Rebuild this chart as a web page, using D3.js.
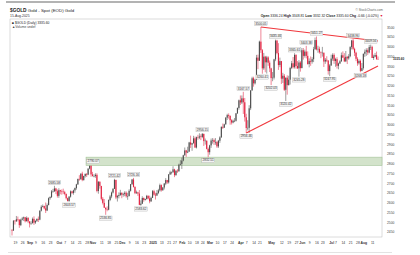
<!DOCTYPE html>
<html><head><meta charset="utf-8">
<script src="https://cdn.jsdelivr.net/npm/d3@7/dist/d3.min.js"></script>
<style>body{margin:0;background:#fff}svg{display:block;font-family:"Liberation Sans",Arial,sans-serif}</style>
</head><body><svg id="c" width="420" height="255"></svg>
<script>
// Daily OHLC rows: [day, open, high, low, close]
const aug24=[[15,2457,2464,2431,2456],[16,2456,2509,2455,2507],[19,2507,2509,2487,2504],[20,2504,2531,2500,2514],[21,2514,2528,2503,2512],[22,2512,2514,2470,2484],[23,2484,2517,2479,2512],[26,2512,2526,2508,2518],[27,2518,2528,2505,2524],[28,2524,2526,2498,2504],[29,2504,2529,2503,2521],[30,2521,2525,2494,2503]];
const sep24=[[3,2503,2504,2472,2493],[4,2493,2504,2485,2495],[5,2495,2523,2491,2516],[6,2516,2529,2485,2497],[9,2497,2508,2490,2506],[10,2506,2518,2500,2516],[11,2516,2528,2500,2512],[12,2512,2560,2509,2558],[13,2558,2586,2554,2578],[16,2578,2590,2575,2582],[17,2582,2584,2565,2570],[18,2570,2600,2546,2559],[19,2559,2595,2556,2587],[20,2587,2626,2585,2622],[23,2622,2632,2614,2628],[24,2628,2664,2623,2657],[25,2657,2670,2650,2657],[26,2657,2685.58,2655,2672],[27,2672,2675,2643,2658],[30,2658,2667,2625,2634]];
const oct24=[[1,2634,2673,2624,2663],[2,2663,2665,2642,2657],[3,2657,2667,2640,2656],[4,2656,2671,2643,2653],[7,2653,2660,2637,2644],[8,2644,2646,2615,2622],[9,2622,2625,2605,2608],[10,2608,2633,2603.57,2630],[11,2630,2662,2625,2657],[14,2657,2660,2643,2649],[15,2649,2666,2640,2662],[16,2662,2677,2650,2674],[17,2674,2696,2666,2693],[18,2693,2722,2690,2721],[21,2721,2740,2712,2720],[22,2720,2749,2716,2748],[23,2748,2758,2709,2715],[24,2715,2737,2712,2736],[25,2736,2748,2728,2747],[28,2747,2750,2731,2743],[29,2743,2775,2740,2774],[30,2774,2789,2770,2788],[31,2788,2790.07,2732,2744]];
const nov24=[[1,2744,2757,2733,2736],[4,2736,2745,2729,2736],[5,2736,2750,2727,2742],[6,2742,2750,2652,2659],[7,2659,2710,2645,2706],[8,2706,2709,2671,2685],[11,2685,2685,2611,2619],[12,2619,2628,2590,2598],[13,2598,2618,2573,2573],[14,2573,2575,2536.85,2565],[15,2565,2580,2555,2563],[18,2563,2616,2560,2613],[19,2613,2639,2607,2631],[20,2631,2656,2622,2651],[21,2651,2674,2646,2670],[22,2670,2721.42,2669,2716],[25,2716,2716,2617,2626],[26,2626,2639,2605,2633],[27,2633,2652,2621,2638],[29,2638,2665,2634,2650]];
const dec24=[[2,2650,2651,2622,2640],[3,2640,2650,2630,2643],[4,2643,2658,2632,2650],[5,2650,2657,2625,2632],[6,2632,2650,2614,2633],[9,2633,2668,2631,2660],[10,2660,2695,2656,2694],[11,2694,2721,2690,2718],[12,2718,2726.16,2677,2680],[13,2680,2683,2643,2648],[16,2648,2661,2644,2652],[17,2652,2655,2634,2646],[18,2646,2664,2586,2588],[19,2588,2611,2583.62,2594],[20,2594,2632,2592,2623],[23,2623,2626,2604,2613],[24,2613,2620,2610,2618],[26,2618,2639,2615,2634],[27,2634,2637,2616,2621],[30,2621,2635,2596,2606],[31,2606,2630,2603,2624]];
const jan25=[[2,2624,2664,2623,2658],[3,2658,2665,2635,2640],[6,2640,2650,2615,2636],[7,2636,2664,2633,2649],[8,2649,2670,2643,2662],[10,2662,2697,2656,2689],[13,2689,2693,2656,2663],[14,2663,2679,2660,2677],[15,2677,2700,2667,2697],[16,2697,2725,2689,2715],[17,2715,2716,2695,2703],[21,2703,2746,2697,2744],[22,2744,2763,2741,2755],[23,2755,2759,2744,2755],[24,2755,2786,2753,2770],[27,2770,2773,2730,2740],[28,2740,2765,2738,2763],[29,2763,2771,2752,2760],[30,2760,2799,2758,2794],[31,2794,2817,2790,2798]];
const feb25=[[3,2798,2830,2772,2815],[4,2815,2845,2811,2842],[5,2842,2882,2840,2867],[6,2867,2870,2834,2856],[7,2856,2886,2853,2861],[10,2861,2911,2860,2908],[11,2908,2943,2880,2897],[12,2897,2906,2865,2904],[13,2904,2942,2902,2929],[14,2929,2938,2880,2882],[18,2882,2938,2877,2935],[19,2935,2947,2922,2933],[20,2933,2955,2925,2939],[21,2939,2950,2920,2936],[24,2936,2956.15,2930,2952],[25,2952,2953,2890,2915],[26,2915,2928,2897,2917],[27,2917,2918,2872,2875],[28,2875,2882,2832.51,2858]];
const mar25=[[3,2858,2896,2845,2893],[4,2893,2928,2880,2918],[5,2918,2930,2902,2920],[6,2920,2928,2895,2910],[7,2910,2930,2896,2910],[10,2910,2916,2880,2888],[11,2888,2921,2880,2917],[12,2917,2940,2906,2934],[13,2934,2990,2932,2988],[14,2988,3005,2977,2984],[17,2984,3004,2982,3001],[18,3001,3038,2999,3035],[19,3035,3055,3023,3048],[20,3048,3057,3030,3044],[21,3044,3047,2999,3022],[24,3022,3027,3000,3010],[25,3010,3025,3006,3019],[26,3019,3033,3012,3019],[27,3019,3059,3015,3057],[28,3057,3087,3055,3085],[31,3085,3128,3076,3124]];
const apr25=[[1,3124,3149,3100,3113],[2,3113,3149,3105,3134],[3,3134,3167.57,3054,3114],[4,3114,3136,3015,3037],[7,3037,3055,2956.46,2982],[8,2982,3022,2970,2983],[9,2983,3099,2957,3083],[10,3083,3176,3074,3175],[11,3175,3245,3173,3237],[14,3237,3245,3194,3211],[15,3211,3232,3205,3230],[16,3230,3357,3229,3343],[17,3343,3358,3284,3327],[21,3327,3430,3327,3425],[22,3425,3500.05,3367,3381],[23,3381,3387,3260.41,3288],[24,3288,3367,3280,3348],[25,3348,3352,3268,3319],[28,3319,3352,3261,3344],[29,3344,3350,3301,3317],[30,3317,3328,3269,3288]];
const may25=[[1,3288,3291,3202.03,3238],[2,3238,3269,3222,3240],[5,3240,3337,3231,3334],[6,3334,3435.46,3325,3430],[7,3430,3434,3360,3366],[8,3366,3417,3280,3305],[9,3305,3343,3294,3325],[12,3325,3326,3208,3235],[13,3235,3265,3213,3250],[14,3250,3259,3172,3178],[15,3178,3241,3120.42,3240],[16,3240,3252,3153,3202],[19,3202,3250,3200,3230],[20,3230,3296,3205,3290],[21,3290,3326,3284,3314],[22,3314,3346,3287,3294],[23,3294,3365.61,3287,3357],[27,3357,3360,3286,3300],[28,3300,3325,3285,3288],[29,3288,3330,3245.28,3318],[30,3318,3325,3271,3289]];
const jun25=[[2,3289,3392,3289,3381],[3,3381,3392,3333,3352],[4,3352,3384,3343,3374],[5,3374,3403.38,3339,3352],[6,3352,3375,3307,3310],[9,3310,3339,3293,3326],[10,3326,3349,3301,3322],[11,3322,3345,3312,3335],[12,3335,3398,3320,3386],[13,3386,3446,3383,3433],[16,3433,3451.27,3380,3385],[17,3385,3404,3368,3388],[18,3388,3399,3363,3370],[20,3370,3375,3340,3368],[23,3368,3398,3348,3368],[24,3368,3369,3295,3323],[25,3323,3341,3311,3332],[26,3332,3350,3320,3328],[27,3328,3330,3256,3274],[30,3274,3310,3247.95,3303]];
const jul25=[[1,3303,3358,3300,3338],[2,3338,3365,3327,3357],[3,3357,3365,3311,3326],[7,3326,3342,3296,3335],[8,3335,3345,3287,3301],[9,3301,3317,3283,3313],[10,3313,3330,3310,3324],[11,3324,3369,3322,3355],[14,3355,3375,3341,3343],[15,3343,3366,3320,3324],[16,3324,3377,3320,3347],[17,3347,3352,3310,3339],[18,3339,3361,3332,3350],[21,3350,3402,3345,3397],[22,3397,3434,3385,3431],[23,3431,3438.96,3381,3388],[24,3388,3394,3351,3368],[25,3368,3373,3325,3337],[28,3337,3345,3301,3314],[29,3314,3334,3307,3326],[30,3326,3333,3268.18,3275],[31,3275,3315,3273,3289]];
const aug25=[[1,3289,3363,3281,3363],[4,3363,3385,3347,3373],[5,3373,3391,3352,3381],[6,3381,3391,3357,3369],[7,3369,3408,3365,3397],[8,3397,3409.56,3382,3398],[11,3398,3404,3341,3341],[12,3341,3358,3331,3348],[13,3348,3367,3345,3356],[14,3356,3374,3331,3336],[15,3336.24,3348.81,3332.32,3335.6]];

const monthTable=[[2024,8,aug24],[2024,9,sep24],[2024,10,oct24],[2024,11,nov24],[2024,12,dec24],[2025,1,jan25],[2025,2,feb25],[2025,3,mar25],[2025,4,apr25],[2025,5,may25],[2025,6,jun25],[2025,7,jul25],[2025,8,aug25]];

const yTicks=[3500,3450,3400,3350,3300,3250,3200,3150,3100,3050,3000,2950,2900,2850,2800,2750,2700,2650,2600,2550,2500,2450];
const xTickLabels=[["2024-08-19","19"],["2024-08-26","26"],["2024-09-03","Sep",1],["2024-09-09","9"],["2024-09-16","16"],["2024-09-23","23"],["2024-10-01","Oct",1],["2024-10-07","7"],["2024-10-14","14"],["2024-10-21","21"],["2024-10-28","28"],["2024-11-01","Nov",1],["2024-11-11","11"],["2024-11-18","18"],["2024-11-25","25"],["2024-12-02","Dec",1],["2024-12-09","9"],["2024-12-16","16"],["2024-12-23","23"],["2025-01-02","2025",1],["2025-01-13","13"],["2025-01-21","21"],["2025-01-27","27"],["2025-02-03","Feb",1],["2025-02-10","10"],["2025-02-18","18"],["2025-02-24","24"],["2025-03-03","Mar",1],["2025-03-10","10"],["2025-03-17","17"],["2025-03-24","24"],["2025-04-01","Apr",1],["2025-04-07","7"],["2025-04-14","14"],["2025-04-21","21"],["2025-05-01","May",1],["2025-05-12","12"],["2025-05-19","19"],["2025-05-27","27"],["2025-06-02","Jun",1],["2025-06-09","9"],["2025-06-16","16"],["2025-06-23","23"],["2025-07-01","Jul",1],["2025-07-07","7"],["2025-07-14","14"],["2025-07-21","21"],["2025-07-28","28"],["2025-08-01","Aug",1],["2025-08-11","11"]];

const highLabels=[["2024-09-26","2685.58"],["2024-11-22","2721.42"],["2024-12-12","2726.16"],["2025-02-24","2956.15"],["2025-04-03","3167.57"],["2025-04-22","3500.05"],["2025-05-06","3435.46"],["2025-05-23","3365.61"],["2025-06-05","3403.38"],["2025-06-16","3451.27"],["2025-07-23","3438.96"],["2025-08-08","3409.56"]];
const lowLabels=[["2024-10-10","2603.57"],["2024-11-14","2536.85"],["2024-12-19","2583.62"],["2025-02-28","2832.51"],["2025-04-07","2956.46"],["2025-04-23","3260.41"],["2025-05-01","3202.03"],["2025-05-15","3120.42"],["2025-05-29","3245.28"],["2025-06-30","3247.95"],["2025-07-30","3268.18"]];

const supportBand={start:"2024-10-31",low:2790.07,high:2832.51,label:"2790.07"};
const upperTrend=[["2025-04-22",3500.05],["2025-08-15",3428]];
const lowerTrend=[["2025-04-07",2956.46],["2025-08-15",3300]];
const lastClose=3335.60;

// ---------- build ----------
const candles=[];
monthTable.forEach(([yr,mo,rows])=>rows.forEach(r=>candles.push({date:new Date(yr,mo-1,r[0]),o:r[1],h:r[2],l:r[3],c:r[4]})));
const fmt=d3.timeFormat('%Y-%m-%d');
const idx=new Map(candles.map((c,i)=>[fmt(c.date),i]));

const svg=d3.select('#c');
const P={l:10,r:382,t:19,b:237};
const x=d3.scaleLinear().domain([0,candles.length-1]).range([12,378]);
const y=d3.scaleLinear().domain([3500,2450]).range([27,231.75]);
const UP='#4d4d4d',DN='#e2203f';

// header
svg.append('rect').attr('x',6).attr('y',1).attr('width',389).attr('height',2).attr('fill','#b3b3b3');
svg.append('line').attr('x1',8).attr('x2',392).attr('y1',252.5).attr('y2',252.5).attr('stroke','#d0d0d0').attr('stroke-width',0.6);
const t1=svg.append('text').attr('x',10).attr('y',12).attr('font-size',4.4).attr('fill','#222');
t1.append('tspan').attr('font-weight','bold').attr('font-size',4.8).text('$GOLD');
t1.append('tspan').text(' Gold - Spot (EOD) Gold');
svg.append('text').attr('x',10).attr('y',17).attr('font-size',3.4).attr('fill','#333').text('15-Aug-2025');
svg.append('text').attr('x',383).attr('y',11).attr('font-size',3.2).attr('fill','#666').attr('text-anchor','end').text('© StockCharts.com');
const ohlc=svg.append('text').attr('x',383).attr('y',17).attr('font-size',3.4).attr('fill','#222').attr('text-anchor','end');
[["Open"," 3336.24 "],["High"," 3348.81 "],["Low"," 3332.32 "],["Close"," 3335.60 "],["Chg"," -0.66 (-0.02%) "]].forEach(([k,v])=>{ohlc.append('tspan').attr('font-weight','bold').text(k);ohlc.append('tspan').text(v);});
ohlc.append('tspan').attr('fill',DN).text('▼');

// frame
svg.append('rect').attr('x',P.l).attr('y',P.t).attr('width',P.r-P.l).attr('height',P.b-P.t).attr('fill','none').attr('stroke','#b8b8b8').attr('stroke-width',0.5);

// legend
svg.append('text').attr('x',12).attr('y',23.5).attr('font-size',3.3).attr('fill','#222').text('■ $GOLD (Daily) 3335.60');
svg.append('text').attr('x',12).attr('y',27.5).attr('font-size',3.3).attr('fill','#444').text('▲Volume undef');

// band
const bx=x(idx.get(supportBand.start))-5;
svg.append('rect').attr('x',bx).attr('y',y(supportBand.high)).attr('width',P.r-bx).attr('height',y(supportBand.low)-y(supportBand.high))
  .attr('fill','#d3e3cb').attr('stroke','#a3c398').attr('stroke-width',0.6);

// candles
const step=x(1)-x(0);
const g=svg.append('g');
candles.forEach((d,i)=>{
  const col=d.c<d.o?DN:UP;
  const cx=x(i);
  g.append('line').attr('x1',cx).attr('x2',cx).attr('y1',y(d.h)).attr('y2',y(d.l)).attr('stroke',col).attr('stroke-width',0.55);
  const top=y(Math.max(d.o,d.c)),bot=y(Math.min(d.o,d.c));
  g.append('rect').attr('x',cx-step*0.38).attr('width',step*0.76).attr('y',top).attr('height',Math.max(0.5,bot-top)).attr('fill',col);
});

// trend lines
const tl=d3.line().x(d=>x(idx.get(d[0]))).y(d=>y(d[1]));
[upperTrend,lowerTrend].forEach(t=>svg.append('path').attr('d',tl(t)).attr('fill','none').attr('stroke','#f0373c').attr('stroke-width',1.1));

// value labels
function tag(cx,yy,txt,anchorTop){
  const fs=3.1,w=txt.length*fs*0.52+1.4,h=4.2;
  const ty=anchorTop?yy:yy-h;
  svg.append('rect').attr('x',cx-w/2).attr('y',ty).attr('width',w).attr('height',h).attr('fill','#f3f3f3').attr('stroke','#a0a0a0').attr('stroke-width',0.3);
  svg.append('text').attr('x',cx).attr('y',ty+h-1.1).attr('font-size',fs).attr('text-anchor','middle').attr('fill','#333').text(txt);
}
highLabels.forEach(([d,t])=>{const i=idx.get(d);tag(x(i),y(candles[i].h)-1.2,t,false);});
lowLabels.forEach(([d,t])=>{const i=idx.get(d);tag(x(i),y(candles[i].l)+1.2,t,true);});
tag(bx+7,y(supportBand.low)-6.1,supportBand.label,true);

// axes
const ya=svg.append('g').attr('transform',`translate(${P.r+2},0)`).call(d3.axisRight(y).tickValues(yTicks).tickSize(0).tickFormat(d3.format('d')));
ya.select('.domain').remove();
ya.selectAll('text').attr('font-size',3.3).attr('fill','#444').attr('dx',0).attr('font-family','Liberation Sans, Arial, sans-serif');
svg.append('text').attr('x',P.r+11).attr('y',y(lastClose)+1.1).attr('font-size',3.1).attr('font-weight','bold').attr('fill','#222').text(d3.format('.2f')(lastClose));

const xt=xTickLabels.filter(t=>idx.has(t[0]));
const xa=svg.append('g').attr('transform',`translate(0,${P.b+1.5})`).call(d3.axisBottom(x).tickValues(xt.map(t=>idx.get(t[0]))).tickSize(0).tickFormat((v,i)=>xt[i][1]));
xa.select('.domain').remove();
xa.selectAll('text').attr('font-size',3.4).attr('fill','#333').attr('font-family','Liberation Sans, Arial, sans-serif')
  .attr('font-weight',(v,i)=>xt[i][2]?'bold':'normal');
</script></body></html>
